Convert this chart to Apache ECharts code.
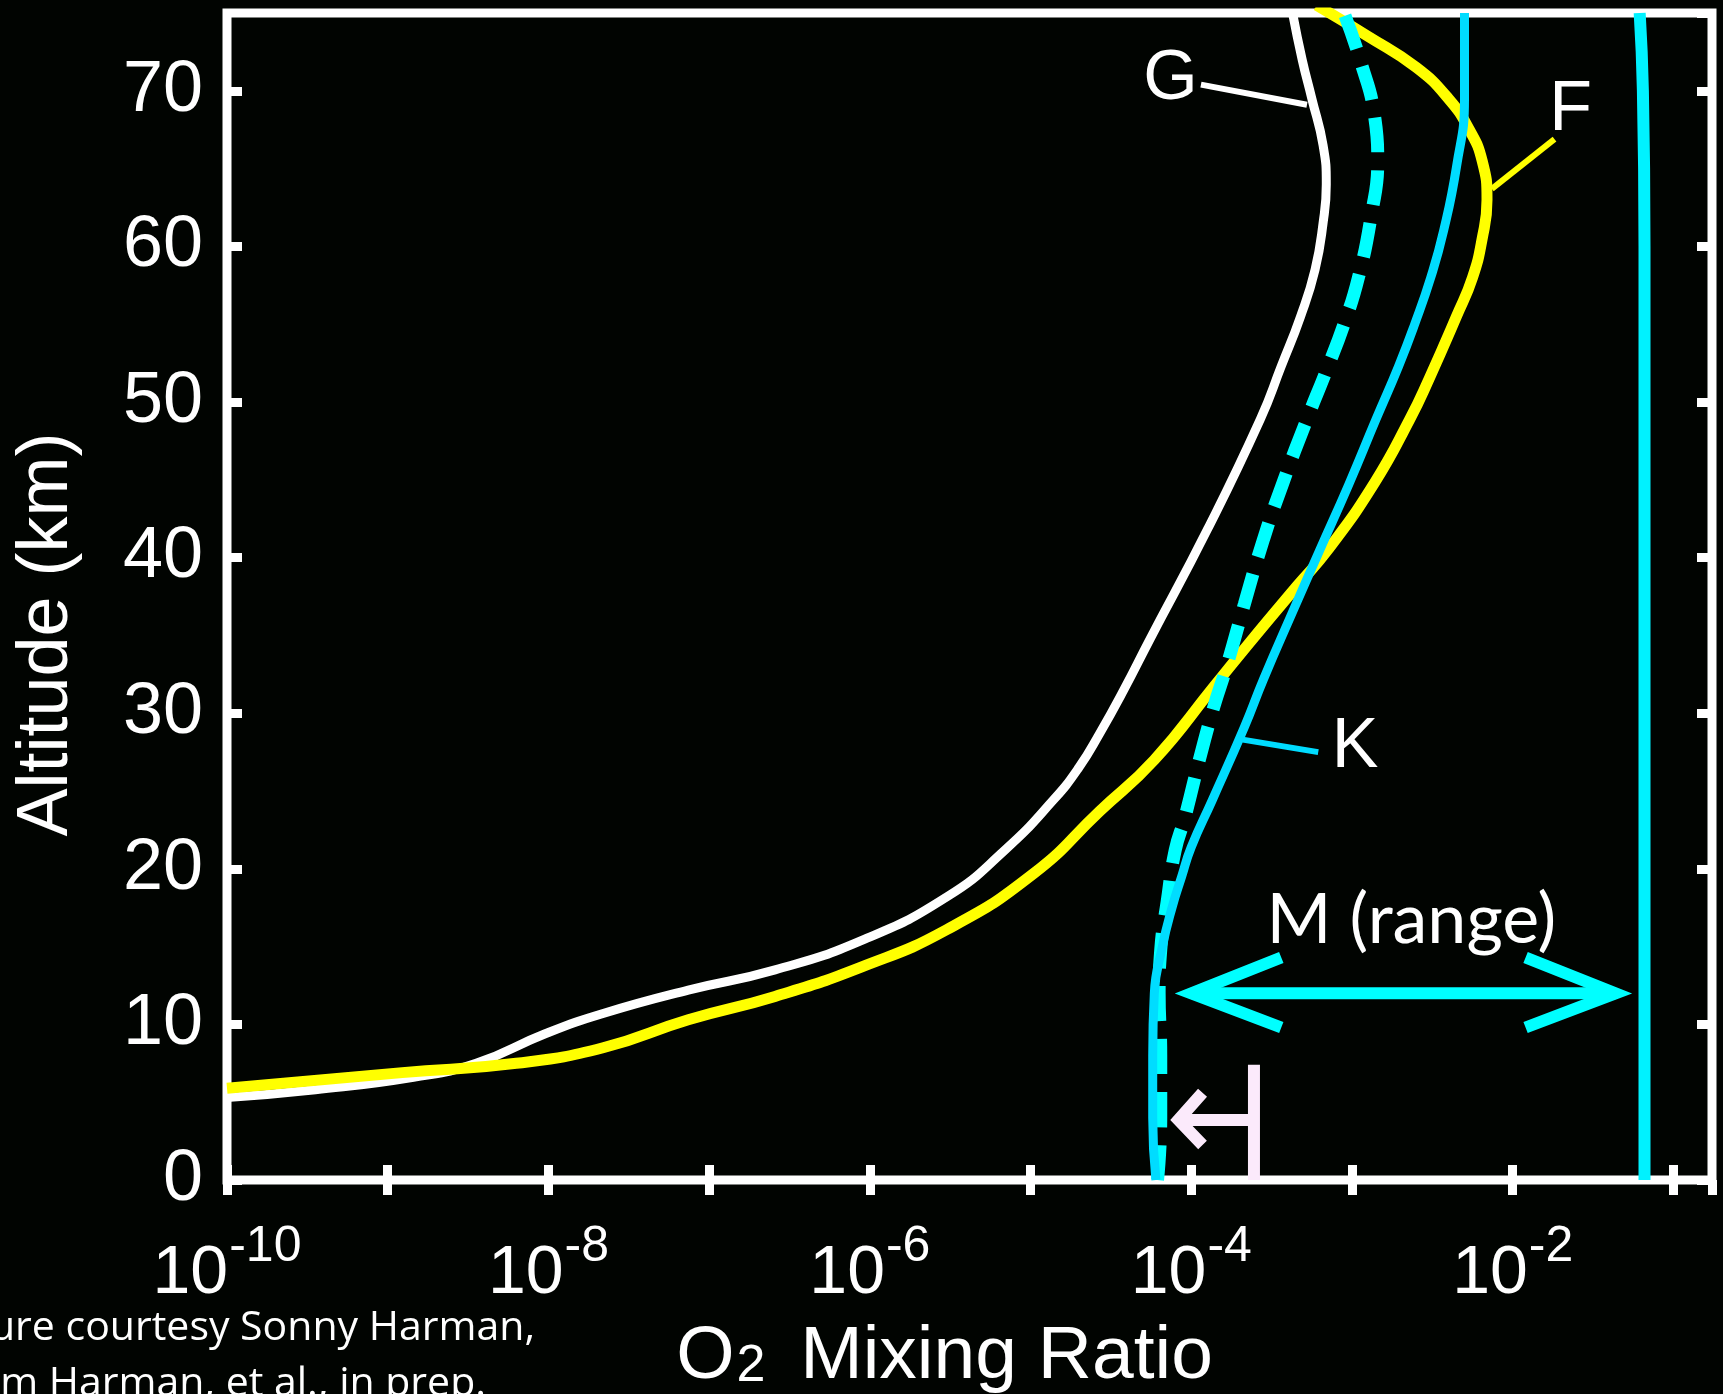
<!DOCTYPE html>
<html>
<head>
<meta charset="utf-8">
<title>O2 mixing ratio profiles</title>
<script src="https://cdn.jsdelivr.net/npm/echarts@6/dist/echarts.min.js"></script>
<style>
  html, body { margin: 0; padding: 0; background: #010401; }
  #chart { width: 1723px; height: 1394px; }
</style>
</head>
<body>
<div id="chart"></div>
<script>
// profiles: altitude (km) and log10 of the O2 mixing ratio
const altG = [5.3, 5.8, 6.6, 7.5, 9.4, 10.7, 12.2, 13.5, 15.4, 18.2, 21.2, 24.4, 26.5, 28.7, 31.5, 34.7, 41.8, 48.9, 52.3, 55.5, 58.5, 61.5, 64, 66.5, 69.5, 72, 75];
const logG = [-10, -9.45, -8.84, -8.45, -8.02, -7.66, -7.13, -6.59, -6.05, -5.52, -5.16, -4.86, -4.70, -4.57, -4.42, -4.26, -3.90, -3.57, -3.44, -3.32, -3.23, -3.18, -3.16, -3.18, -3.25, -3.31, -3.37];

const altF = [5.9, 6.9, 7.5, 8.5, 10.3, 11.8, 13.7, 16.1, 19.7, 23.7, 27.0, 31.7, 34.5, 38.2, 40.5, 44.8, 48.9, 51.5, 55.5, 58.0, 60.5, 63.0, 65.5, 67.5, 69.5, 71.5, 73.5, 75.5];
const logF = [-10, -8.91, -8.20, -7.66, -7.13, -6.59, -6.05, -5.52, -4.98, -4.57, -4.23, -3.86, -3.64, -3.34, -3.15, -2.86, -2.64, -2.52, -2.35, -2.25, -2.19, -2.16, -2.19, -2.27, -2.40, -2.60, -2.90, -3.22];

// dashed cyan profile
const altDash = [0, 4, 8, 12, 14.8, 17.9, 21.2, 23.3, 27.0, 30.4, 33.0, 37.0, 41.2, 44.8, 48.9, 52.0, 55.0, 58.0, 62.0, 65.5, 68.4, 72.0, 75];
const logDash = [-4.21, -4.19, -4.19, -4.20, -4.19, -4.15, -4.10, -4.04, -3.95, -3.86, -3.78, -3.67, -3.55, -3.43, -3.28, -3.16, -3.05, -2.96, -2.88, -2.84, -2.86, -2.95, -3.05];

const altK = [0, 4, 8, 12, 15, 17.5, 19.5, 21.4, 24.4, 29.1, 32.2, 36.5, 40.5, 44.7, 48.9, 52.3, 55.0, 58.0, 61.0, 65.1, 69.5, 75];
const logK = [-4.22, -4.24, -4.24, -4.23, -4.18, -4.12, -4.06, -4.00, -3.87, -3.67, -3.55, -3.37, -3.20, -3.02, -2.85, -2.71, -2.61, -2.51, -2.43, -2.35, -2.30, -2.30];

// upper end of the M range
const altM = [0, 60, 70, 75];
const logM = [-1.18, -1.18, -1.19, -1.21];

// annotation strokes, [log10 ratio, km]
const leaderG = [[-3.94, 70.4], [-3.28, 69.1]];
const leaderF = [[-1.74, 66.9], [-2.13, 63.7]];
const leaderK = [[-3.68, 28.3], [-3.21, 27.5]];
const rangeShaft = [[-4.00, 12.0], [-1.36, 12.0]];
const rangeHeadL = [[-3.44, 14.3], [-4.00, 12.0], [-3.44, 9.8]];
const rangeHeadR = [[-1.92, 14.3], [-1.36, 12.0], [-1.92, 9.8]];
const limitBar = [[-3.61, 0], [-3.61, 7.4]];
const limitShaft = [[-3.61, 3.86], [-4.08, 3.86]];
const limitHead = [[-3.93, 5.6], [-4.08, 3.86], [-3.93, 2.25]];

const labelText = ['G', 'F', 'K', 'M (range)'];
const labelLog = [-4.13, -1.64, -2.98, -2.63];
const labelAlt = [70.7, 68.7, 27.8, 16.7];

const xTicks = [-10, -8, -6, -4, -2];
const caption = ['Figure courtesy Sonny Harman,', 'from Harman, et al., in prep.'];

const helv = '"Liberation Sans", Arial, Helvetica, sans-serif';
const humanist = 'Lato, "Open Sans", sans-serif';

function pairs(logs, alts) {
  return logs.map((v, i) => [v, alts[i]]);
}

function profile(logs, alts, color, width, dash) {
  return {
    type: 'line',
    data: pairs(logs, alts),
    symbol: 'none',
    smooth: 0.5,
    silent: true,
    lineStyle: { color: color, width: width, type: dash || 'solid', cap: 'butt' }
  };
}

function stroke(pts, color, width) {
  return {
    type: 'line',
    data: pts,
    symbol: 'none',
    silent: true,
    lineStyle: { color: color, width: width, join: 'miter', cap: 'butt' }
  };
}

let myChart = echarts.init(document.getElementById('chart'));

let tickStyle = { inside: true, length: 15, lineStyle: { color: '#fff', width: 9 } };

let option = {
  backgroundColor: '#010401',
  animation: false,
  grid: {
    left: 227,
    right: 11,
    top: 13,
    bottom: 214,
    containLabel: false,
    outerBoundsMode: 'none',
    show: true,
    borderColor: '#fff',
    borderWidth: 9,
    backgroundColor: 'transparent'
  },
  xAxis: [
    {
      type: 'value',
      position: 'bottom',
      min: -10,
      max: -0.76,
      interval: 1,
      axisLine: { show: false },
      axisTick: tickStyle,
      splitLine: { show: false },
      axisLabel: {
        margin: 57,
        showMaxLabel: false,
        color: '#fff',
        fontFamily: helv,
        formatter: v => (xTicks.indexOf(v) >= 0 ? '{b|10}{e|' + v + '}' : ''),
        // equal token heights, so the superscript offset comes from padding only
        rich: {
          b: { fontSize: 68, lineHeight: 70, padding: [17.6, 0, 12.4, 0], color: '#fff', fontFamily: helv },
          e: { fontSize: 50, lineHeight: 50, padding: [0, 0, 50, 1], color: '#fff', fontFamily: helv }
        }
      },
      name: '{t|O}{s|2}{t| Mixing Ratio}',
      nameLocation: 'middle',
      nameGap: 145,
      nameMoveOverlap: false,
      nameTextStyle: {
        color: '#fff',
        padding: [0, 50, 0, 0],
        rich: {
          t: { fontSize: 75, lineHeight: 75, padding: [2.5, 0, 12.5, 0], color: '#fff', fontFamily: helv },
          s: { fontSize: 52, lineHeight: 52, padding: [23, 14, 15, 2], color: '#fff', fontFamily: helv }
        }
      }
    },
    {
      type: 'value',
      position: 'top',
      min: -10,
      max: -0.76,
      interval: 1,
      axisLine: { show: false },
      axisTick: tickStyle,
      axisLabel: { show: false },
      splitLine: { show: false }
    }
  ],
  yAxis: [
    {
      type: 'value',
      position: 'left',
      min: 0,
      max: 75,
      interval: 10,
      axisLine: { show: false },
      axisTick: tickStyle,
      splitLine: { show: false },
      axisLabel: {
        margin: 24,
        showMaxLabel: false,
        color: '#fff',
        fontSize: 72,
        fontFamily: helv
      },
      name: 'Altitude (km)',
      nameLocation: 'middle',
      nameRotate: 90,
      nameGap: 144,
      nameTextStyle: { color: '#fff', fontSize: 72, fontFamily: helv, padding: [0, 76, 0, 0] }
    },
    {
      type: 'value',
      position: 'right',
      min: 0,
      max: 75,
      interval: 10,
      axisLine: { show: false },
      axisTick: tickStyle,
      axisLabel: { show: false },
      splitLine: { show: false }
    }
  ],
  graphic: caption.map((t, i) => ({
    type: 'text',
    x: i === 0 ? 535 : 486,
    y: i === 0 ? 1328 : 1384,
    silent: true,
    style: {
      text: t,
      fill: '#fff',
      font: '41px "Open Sans", Lato, sans-serif',
      align: 'right',
      textAlign: 'right',
      verticalAlign: 'middle',
      textVerticalAlign: 'middle'
    }
  })),
  series: [
    profile(logG, altG, '#ffffff', 9),
    profile(logF, altF, '#ffff00', 11),
    profile(logDash, altDash, '#00ffff', 13, [35, 18]),
    profile(logK, altK, '#00dcff', 9),
    profile(logM, altM, '#00f2ff', 12),
    stroke(leaderG, '#ffffff', 6),
    stroke(leaderF, '#ffff00', 6),
    stroke(leaderK, '#00dcff', 6),
    stroke(rangeShaft, '#00ffff', 12),
    stroke(rangeHeadL, '#00ffff', 12),
    stroke(rangeHeadR, '#00ffff', 12),
    stroke(limitBar, '#fbeafb', 12),
    stroke(limitShaft, '#fbeafb', 12),
    stroke(limitHead, '#fbeafb', 12),
    {
      type: 'scatter',
      symbolSize: 0,
      silent: true,
      itemStyle: { opacity: 1 },
      data: labelText.map((t, i) => ({
        name: t,
        value: [labelLog[i], labelAlt[i]],
        label: {
          fontSize: 70,
          fontFamily: i === 3 ? humanist : helv
        }
      })),
      label: {
        show: true,
        position: [0, 0],
        align: 'center',
        verticalAlign: 'middle',
        color: '#ffffff',
        textBorderWidth: 0,
        formatter: '{b}'
      }
    }
  ]
};

myChart.setOption(option);
</script>
</body>
</html>
